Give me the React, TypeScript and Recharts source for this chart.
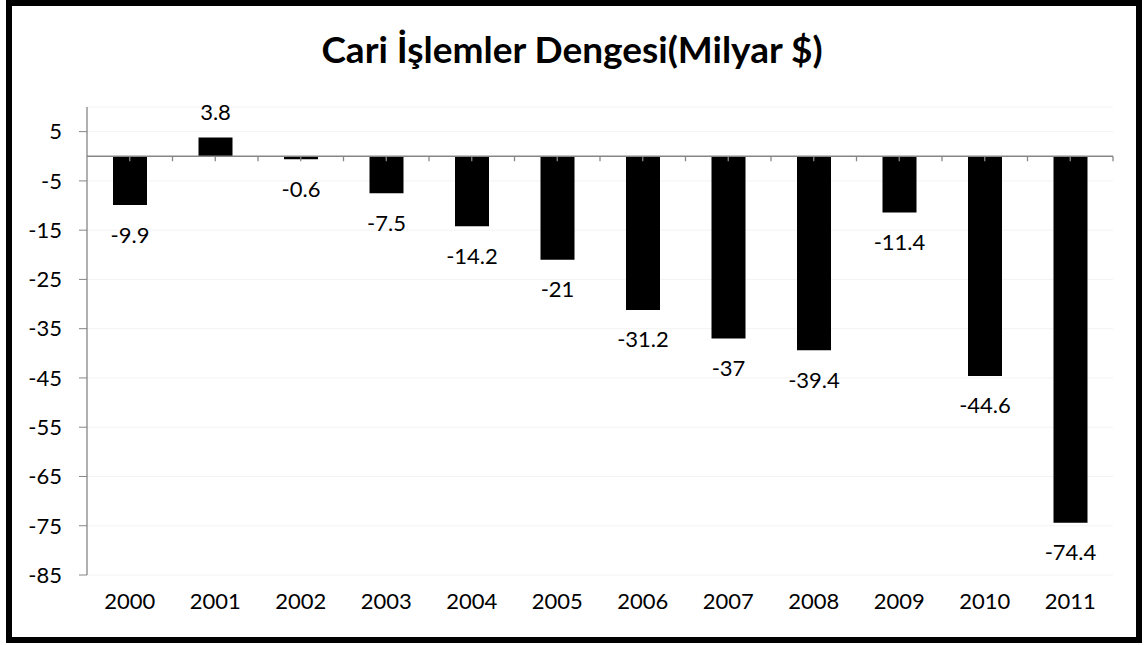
import { BarChart, Bar, XAxis, YAxis, CartesianGrid, ReferenceLine, LabelList } from "recharts";

const years = ["2000", "2001", "2002", "2003", "2004", "2005", "2006", "2007", "2008", "2009", "2010", "2011"];
const balance = [-9.9, 3.8, -0.6, -7.5, -14.2, -21, -31.2, -37, -39.4, -11.4, -44.6, -74.4];
const yTicks = [5, -5, -15, -25, -35, -45, -55, -65, -75, -85];

const data = years.map((year, i) => ({ year, value: balance[i] }));

const FONT = "Lato, 'Open Sans', sans-serif";
const AXIS = "#868686";

function ValueLabel(props: any) {
  const { x, y, width, height, value } = props;
  const top = Math.min(y, y + height);
  const bottom = Math.max(y, y + height);
  const cy = value < 0 ? bottom + 29 : top - 26;
  return (
    <text
      x={x + width / 2}
      y={cy}
      textAnchor="middle"
      dominantBaseline="central"
      fontSize={22}
      fontFamily={FONT}
      fill="#000"
    >
      {value}
    </text>
  );
}

// zero line with Excel-style tick marks at every half category
function ZeroAxis(props: any) {
  const x1 = Math.min(props.x1, props.x2);
  const x2 = Math.max(props.x1, props.x2);
  const y = props.y1 ?? props.y;
  const n = years.length * 2;
  const step = (x2 - x1) / n;
  const marks = [];
  for (let i = 1; i <= n; i++) {
    const x = x1 + step * i;
    marks.push(<line key={i} x1={x} x2={x} y1={y} y2={y + 5} stroke={AXIS} strokeWidth={1.3} />);
  }
  return (
    <g>
      <line x1={x1} x2={x2} y1={y} y2={y} stroke={AXIS} strokeWidth={1.5} />
      {marks}
    </g>
  );
}

export default function App() {
  return (
    <div style={{ position: "absolute", left: 0, top: 0, width: 1144, height: 645, background: "#fff" }}>
      <div
        style={{
          position: "absolute",
          left: 6,
          top: 0,
          width: 1136,
          height: 643,
          boxSizing: "border-box",
          border: "6px solid #000",
        }}
      />
      <div
        style={{
          position: "absolute",
          left: 0,
          width: 1144,
          top: 25,
          textAlign: "center",
          fontFamily: FONT,
          fontWeight: 700,
          fontSize: 37,
          lineHeight: "48px",
          color: "#000",
        }}
      >
        Cari İşlemler Dengesi(Milyar $)
      </div>
      <div style={{ position: "absolute", left: 0, top: 0 }}>
        <BarChart
          width={1144}
          height={645}
          data={data}
          margin={{ top: 107, right: 31, bottom: 30, left: 0 }}
          barSize={34}
        >
          <CartesianGrid vertical={false} stroke="#f3f3f3" />
          <XAxis
            dataKey="year"
            axisLine={false}
            tickLine={false}
            height={40}
            tickMargin={12}
            tick={{ fontSize: 22, fontFamily: FONT, fill: "#000" }}
          />
          <YAxis
            domain={[-85, 10]}
            ticks={yTicks}
            width={87}
            tickSize={8}
            tickMargin={17}
            axisLine={{ stroke: AXIS, strokeWidth: 1.3 }}
            tickLine={{ stroke: AXIS }}
            tick={{ fontSize: 22, fontFamily: FONT, fill: "#000" }}
          />
          <Bar dataKey="value" fill="#000" isAnimationActive={false}>
            <LabelList dataKey="value" content={ValueLabel} />
          </Bar>
          <ReferenceLine y={0} shape={ZeroAxis} />
        </BarChart>
      </div>
    </div>
  );
}
